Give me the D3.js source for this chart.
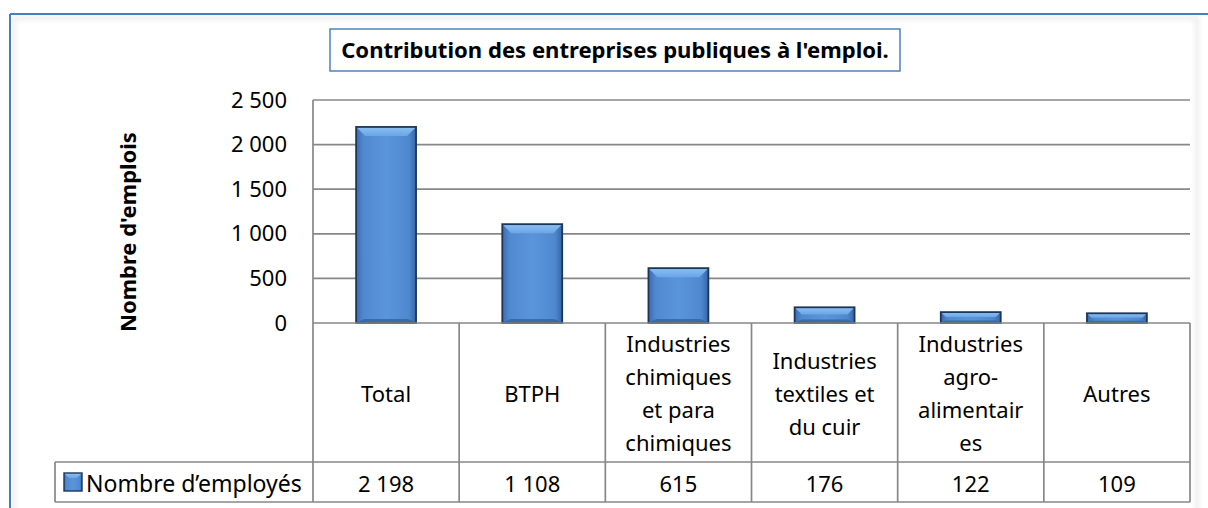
<!DOCTYPE html>
<html>
<head>
<meta charset="utf-8">
<script src="https://cdn.jsdelivr.net/npm/d3@7"></script>
<style>
  html, body { margin: 0; padding: 0; background: #ffffff; }
  svg { display: block; }
  text { font-family: "Noto Sans", "Open Sans", sans-serif; fill: #000; }
</style>
</head>
<body>
<svg id="chart" width="1208" height="508"></svg>
<script>
// ---------- data ----------
const categories = ["Total", "BTPH", "Industries\nchimiques\net para\nchimiques",
  "Industries\ntextiles et\ndu cuir", "Industries\nagro-\nalimentair\nes", "Autres"];
const values = [2198, 1108, 615, 176, 122, 109];
const yTicks = [0, 500, 1000, 1500, 2000, 2500];
const seriesName = "Nombre d\u2019employés";
const chartTitle = "Contribution des entreprises publiques à l'emploi.";
const yAxisTitle = "Nombre d'emplois";

// ---------- setup ----------
const fr = d3.formatLocale({ decimal: ",", thousands: "\u2009", grouping: [3], currency: ["", ""] });
const fmt = v => fr.format(",")(v).replace(/\u2009/g, " ");

const svg = d3.select("#chart");
const W = 1208, H = 508;
const plot = { left: 313, right: 1190, top: 100, bottom: 323 };
const table = { rowTop: 323, rowMid: 462, rowBot: 502, legendLeft: 55 };

const x = d3.scaleBand().domain(categories).range([plot.left, plot.right]).padding(0);
const y = d3.scaleLinear().domain([0, 2500]).range([plot.bottom, plot.top]);

function fitWidth(t, target) {
  const fs = +t.attr("font-size");
  const L = t.node().getComputedTextLength();
  t.attr("font-size", fs * target / L);
}

const defs = svg.append("defs");
const g1 = defs.append("linearGradient").attr("id", "barFill").attr("x1", "0").attr("x2", "1").attr("y1", "0").attr("y2", "0");
g1.append("stop").attr("offset", "0").attr("stop-color", "#3b6cae");
g1.append("stop").attr("offset", "0.12").attr("stop-color", "#5089d0");
g1.append("stop").attr("offset", "0.5").attr("stop-color", "#5a95dc");
g1.append("stop").attr("offset", "0.88").attr("stop-color", "#4f88cf");
g1.append("stop").attr("offset", "1").attr("stop-color", "#3566a6");
const g2 = defs.append("linearGradient").attr("id", "bevelTop").attr("x1", "0").attr("x2", "0").attr("y1", "0").attr("y2", "1");
g2.append("stop").attr("offset", "0").attr("stop-color", "#8cc0f2");
g2.append("stop").attr("offset", "1").attr("stop-color", "#6aa6e6");
const blur = defs.append("filter").attr("id", "soft").attr("x", "-5%").attr("y", "-5%").attr("width", "110%").attr("height", "110%");
blur.append("feGaussianBlur").attr("stdDeviation", 2.5);

// background and faint inner frame shadow
svg.append("rect").attr("width", W).attr("height", H).attr("fill", "#fff");
svg.append("rect").attr("x", 14).attr("y", 18).attr("width", 1183).attr("height", 500)
  .attr("fill", "none").attr("stroke", "#ececec").attr("stroke-width", 4).attr("filter", "url(#soft)");

// outer blue frame (top and left visible)
svg.append("line").attr("x1", 10).attr("x2", W).attr("y1", 14).attr("y2", 14)
  .attr("stroke", "#4a7ebb").attr("stroke-width", 2);
svg.append("line").attr("x1", 10).attr("x2", 10).attr("y1", 14).attr("y2", H)
  .attr("stroke", "#4a7ebb").attr("stroke-width", 2);

// title box
const tb = svg.append("g");
tb.append("rect").attr("x", 330).attr("y", 29).attr("width", 570).attr("height", 42)
  .attr("fill", "#fff").attr("stroke", "#4f81bd").attr("stroke-width", 1.5);
const tt = tb.append("text").attr("x", 615).attr("y", 57.5).attr("text-anchor", "middle")
  .attr("font-weight", "bold").attr("font-size", 20).text(chartTitle);
fitWidth(tt, 548);

// gridlines
svg.append("g").selectAll("line").data(yTicks.filter(d => d > 0)).join("line")
  .attr("x1", plot.left).attr("x2", plot.right)
  .attr("y1", d => y(d)).attr("y2", d => y(d))
  .attr("stroke", "#878787").attr("stroke-width", 1.7);

// y axis via d3.axisLeft (labels only)
const yAxis = svg.append("g").attr("transform", `translate(${plot.left - 26},0)`)
  .call(d3.axisLeft(y).tickValues(yTicks).tickSize(0).tickPadding(0).tickFormat(fmt));
yAxis.select(".domain").remove();
yAxis.selectAll("text").attr("font-size", 22).attr("font-family", "Noto Sans").attr("fill", "#000");
svg.append("line").attr("x1", plot.left).attr("x2", plot.left).attr("y1", plot.top).attr("y2", table.rowBot)
  .attr("stroke", "#878787").attr("stroke-width", 1.7);

// y title
const yt = svg.append("text").attr("transform", `translate(136,232) rotate(-90)`)
  .attr("text-anchor", "middle").attr("font-weight", "bold").attr("font-size", 21).text(yAxisTitle);
fitWidth(yt, 200);

// bars
const bw = x.bandwidth() * 0.41;
const bars = svg.append("g").selectAll("g").data(values).join("g")
  .attr("transform", (d, i) => `translate(${x(categories[i]) + (x.bandwidth() - bw) / 2},${y(d)})`);
bars.append("rect").attr("width", bw).attr("height", d => y(0) - y(d)).attr("fill", "url(#barFill)");
bars.append("path").attr("d", d => {
  const h = y(0) - y(d), b = Math.min(9, h / 2.2);
  return `M0,0 L${bw},0 L${bw - b},${b} L${b},${b} Z`;
}).attr("fill", "url(#bevelTop)");
bars.append("path").attr("d", d => {
  const h = y(0) - y(d), b = Math.min(8, h / 2.2);
  return `M0,${h} L${bw},${h} L${bw - b},${h - b * 0.5} L${b},${h - b * 0.5} Z`;
}).attr("fill", "#2f5d98").attr("opacity", 0.7);
bars.append("rect").attr("width", bw).attr("height", d => y(0) - y(d))
  .attr("fill", "none").attr("stroke", "#1d3658").attr("stroke-width", 1.8);

// zero line
svg.append("line").attr("x1", plot.left).attr("x2", plot.right).attr("y1", y(0)).attr("y2", y(0))
  .attr("stroke", "#878787").attr("stroke-width", 1.7);

// data table
const tg = svg.append("g").attr("stroke", "#878787").attr("stroke-width", 1.7);
tg.append("line").attr("x1", table.legendLeft).attr("x2", plot.right).attr("y1", table.rowMid).attr("y2", table.rowMid);
tg.append("line").attr("x1", table.legendLeft).attr("x2", plot.right).attr("y1", table.rowBot).attr("y2", table.rowBot);
tg.append("line").attr("x1", table.legendLeft).attr("x2", table.legendLeft).attr("y1", table.rowMid).attr("y2", table.rowBot);
tg.selectAll("line.col").data(categories).join("line").attr("class", "col")
  .attr("x1", d => x(d) + x.bandwidth()).attr("x2", d => x(d) + x.bandwidth())
  .attr("y1", table.rowTop).attr("y2", table.rowBot);

// category labels
const lineH = 33;
const cat = svg.append("g").selectAll("text").data(categories).join("text")
  .attr("text-anchor", "middle").attr("font-size", 22)
  .attr("x", d => x(d) + x.bandwidth() / 2)
  .attr("y", (table.rowTop + table.rowMid) / 2)
  .attr("dominant-baseline", "central");
cat.each(function (d) {
  const lines = d.split("\n");
  const t = d3.select(this);
  lines.forEach((ln, k) => {
    t.append("tspan").attr("x", x(d) + x.bandwidth() / 2)
      .attr("dy", k === 0 ? -(lines.length - 1) * lineH / 2 : lineH).text(ln);
  });
});

// value row
svg.append("g").selectAll("text").data(values).join("text")
  .attr("text-anchor", "middle").attr("font-size", 22).attr("dominant-baseline", "central")
  .attr("x", (d, i) => x(categories[i]) + x.bandwidth() / 2)
  .attr("y", (table.rowMid + table.rowBot) / 2 + 1)
  .text(d => fmt(d));

// legend key + series name
const key = svg.append("g").attr("transform", `translate(64,${(table.rowMid + table.rowBot) / 2 - 9})`);
key.append("rect").attr("width", 18).attr("height", 18).attr("fill", "url(#barFill)");
key.append("path").attr("d", "M0,0 L18,0 L13,5 L5,5 Z").attr("fill", "url(#bevelTop)");
key.append("rect").attr("width", 18).attr("height", 18).attr("fill", "none").attr("stroke", "#1d3658").attr("stroke-width", 1.4);
const lt = svg.append("text").attr("x", 86).attr("y", (table.rowMid + table.rowBot) / 2 + 1)
  .attr("dominant-baseline", "central").attr("font-size", 22).text(seriesName);
fitWidth(lt, 216);
</script>
</body>
</html>
